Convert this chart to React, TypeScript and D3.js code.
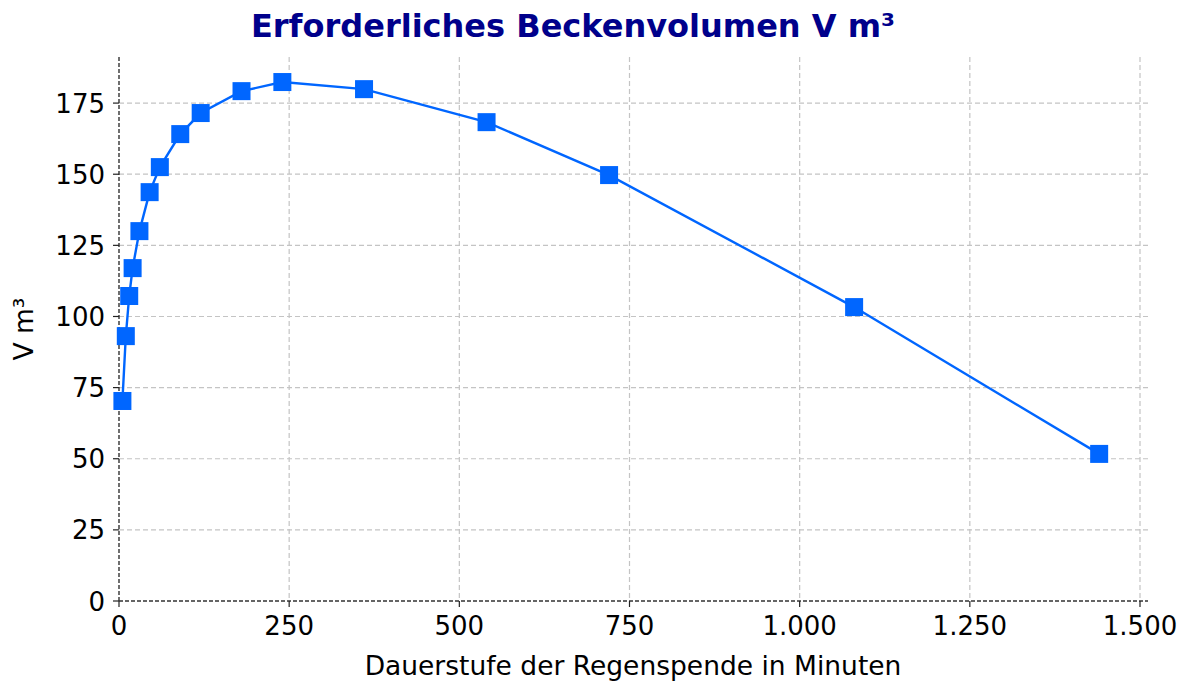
import React from "react";
import * as d3 from "d3";

const durations = [5, 10, 15, 20, 30, 45, 60, 90, 120, 180, 240, 360, 540, 720, 1080, 1440];
const volumes = [70.3, 93.1, 107.2, 117.0, 130.0, 143.7, 152.5, 164.1, 171.5, 179.2, 182.4, 179.9, 168.3, 149.7, 103.3, 51.7];
const xTicks = [0, 250, 500, 750, 1000, 1250, 1500];
const yTicks = [0, 25, 50, 75, 100, 125, 150, 175];
const title = "Erforderliches Beckenvolumen V m³";
const xLabel = "Dauerstufe der Regenspende in Minuten";
const yLabel = "V m³";

const W = 1180;
const H = 682;
const L = 119, R = 1148, T = 57, B = 601;
const FONT = "DejaVu Sans, sans-serif";

export default function App() {
  const x = d3.scaleLinear().domain([0, 1511.75]).range([L, R]);
  const y = d3.scaleLinear().domain([0, 191.2]).range([B, T]);
  const pts = durations.map((d, i) => [x(d), y(volumes[i])] as [number, number]);
  const line = d3.line()(pts) || "";
  const fmt = (v: number) => d3.format(",")(v).replace(/,/g, ".");
  const ms = 18;
  return (
    <svg width={W} height={H} style={{ position: "absolute", left: 0, top: 0, background: "#fff" }} fontFamily={FONT}>
      <rect x={0} y={0} width={W} height={H} fill="#fff" />
      {/* grid */}
      {yTicks.filter((t) => t > 0).map((t) => (
        <line key={"gy" + t} x1={L} x2={R} y1={y(t)} y2={y(t)} stroke="#c4c4c4" strokeWidth={1.2} strokeDasharray="5,3" />
      ))}
      {xTicks.filter((t) => t > 0).map((t) => (
        <line key={"gx" + t} x1={x(t)} x2={x(t)} y1={T} y2={B} stroke="#c4c4c4" strokeWidth={1.2} strokeDasharray="5,3" />
      ))}
      {/* spines */}
      <line x1={L} x2={L} y1={T} y2={B} stroke="#222" strokeWidth={1.3} strokeDasharray="4,2" />
      <line x1={L} x2={R} y1={B} y2={B} stroke="#333" strokeWidth={1.3} strokeDasharray="4,2" />
      {/* ticks */}
      {xTicks.map((t) => (
        <g key={"tx" + t}>
          <line x1={x(t)} x2={x(t)} y1={B} y2={B + 6} stroke="#222" strokeWidth={1.2} />
          <text x={x(t)} y={B + 34} fontSize={26} textAnchor="middle" fill="#000">{fmt(t)}</text>
        </g>
      ))}
      {yTicks.map((t) => (
        <g key={"ty" + t}>
          <line x1={L - 6} x2={L} y1={y(t)} y2={y(t)} stroke="#222" strokeWidth={1.2} />
          <text x={L - 14} y={y(t) + 9.5} fontSize={26} textAnchor="end" fill="#000">{fmt(t)}</text>
        </g>
      ))}
      {/* series */}
      <path d={line} fill="none" stroke="#0066ff" strokeWidth={2.4} />
      {pts.map((p, i) => (
        <rect key={"m" + i} x={p[0] - ms / 2} y={p[1] - ms / 2} width={ms} height={ms} fill="#0066ff" />
      ))}
      {/* labels */}
      <text x={573} y={37} fontSize={32} fontWeight="bold" textAnchor="middle" fill="#00008b">{title}</text>
      <text x={633} y={675} fontSize={26.5} textAnchor="middle" fill="#000">{xLabel}</text>
      <text transform={`translate(33,${(T + B) / 2}) rotate(-90)`} fontSize={26.5} textAnchor="middle" fill="#000">{yLabel}</text>
    </svg>
  );
}
